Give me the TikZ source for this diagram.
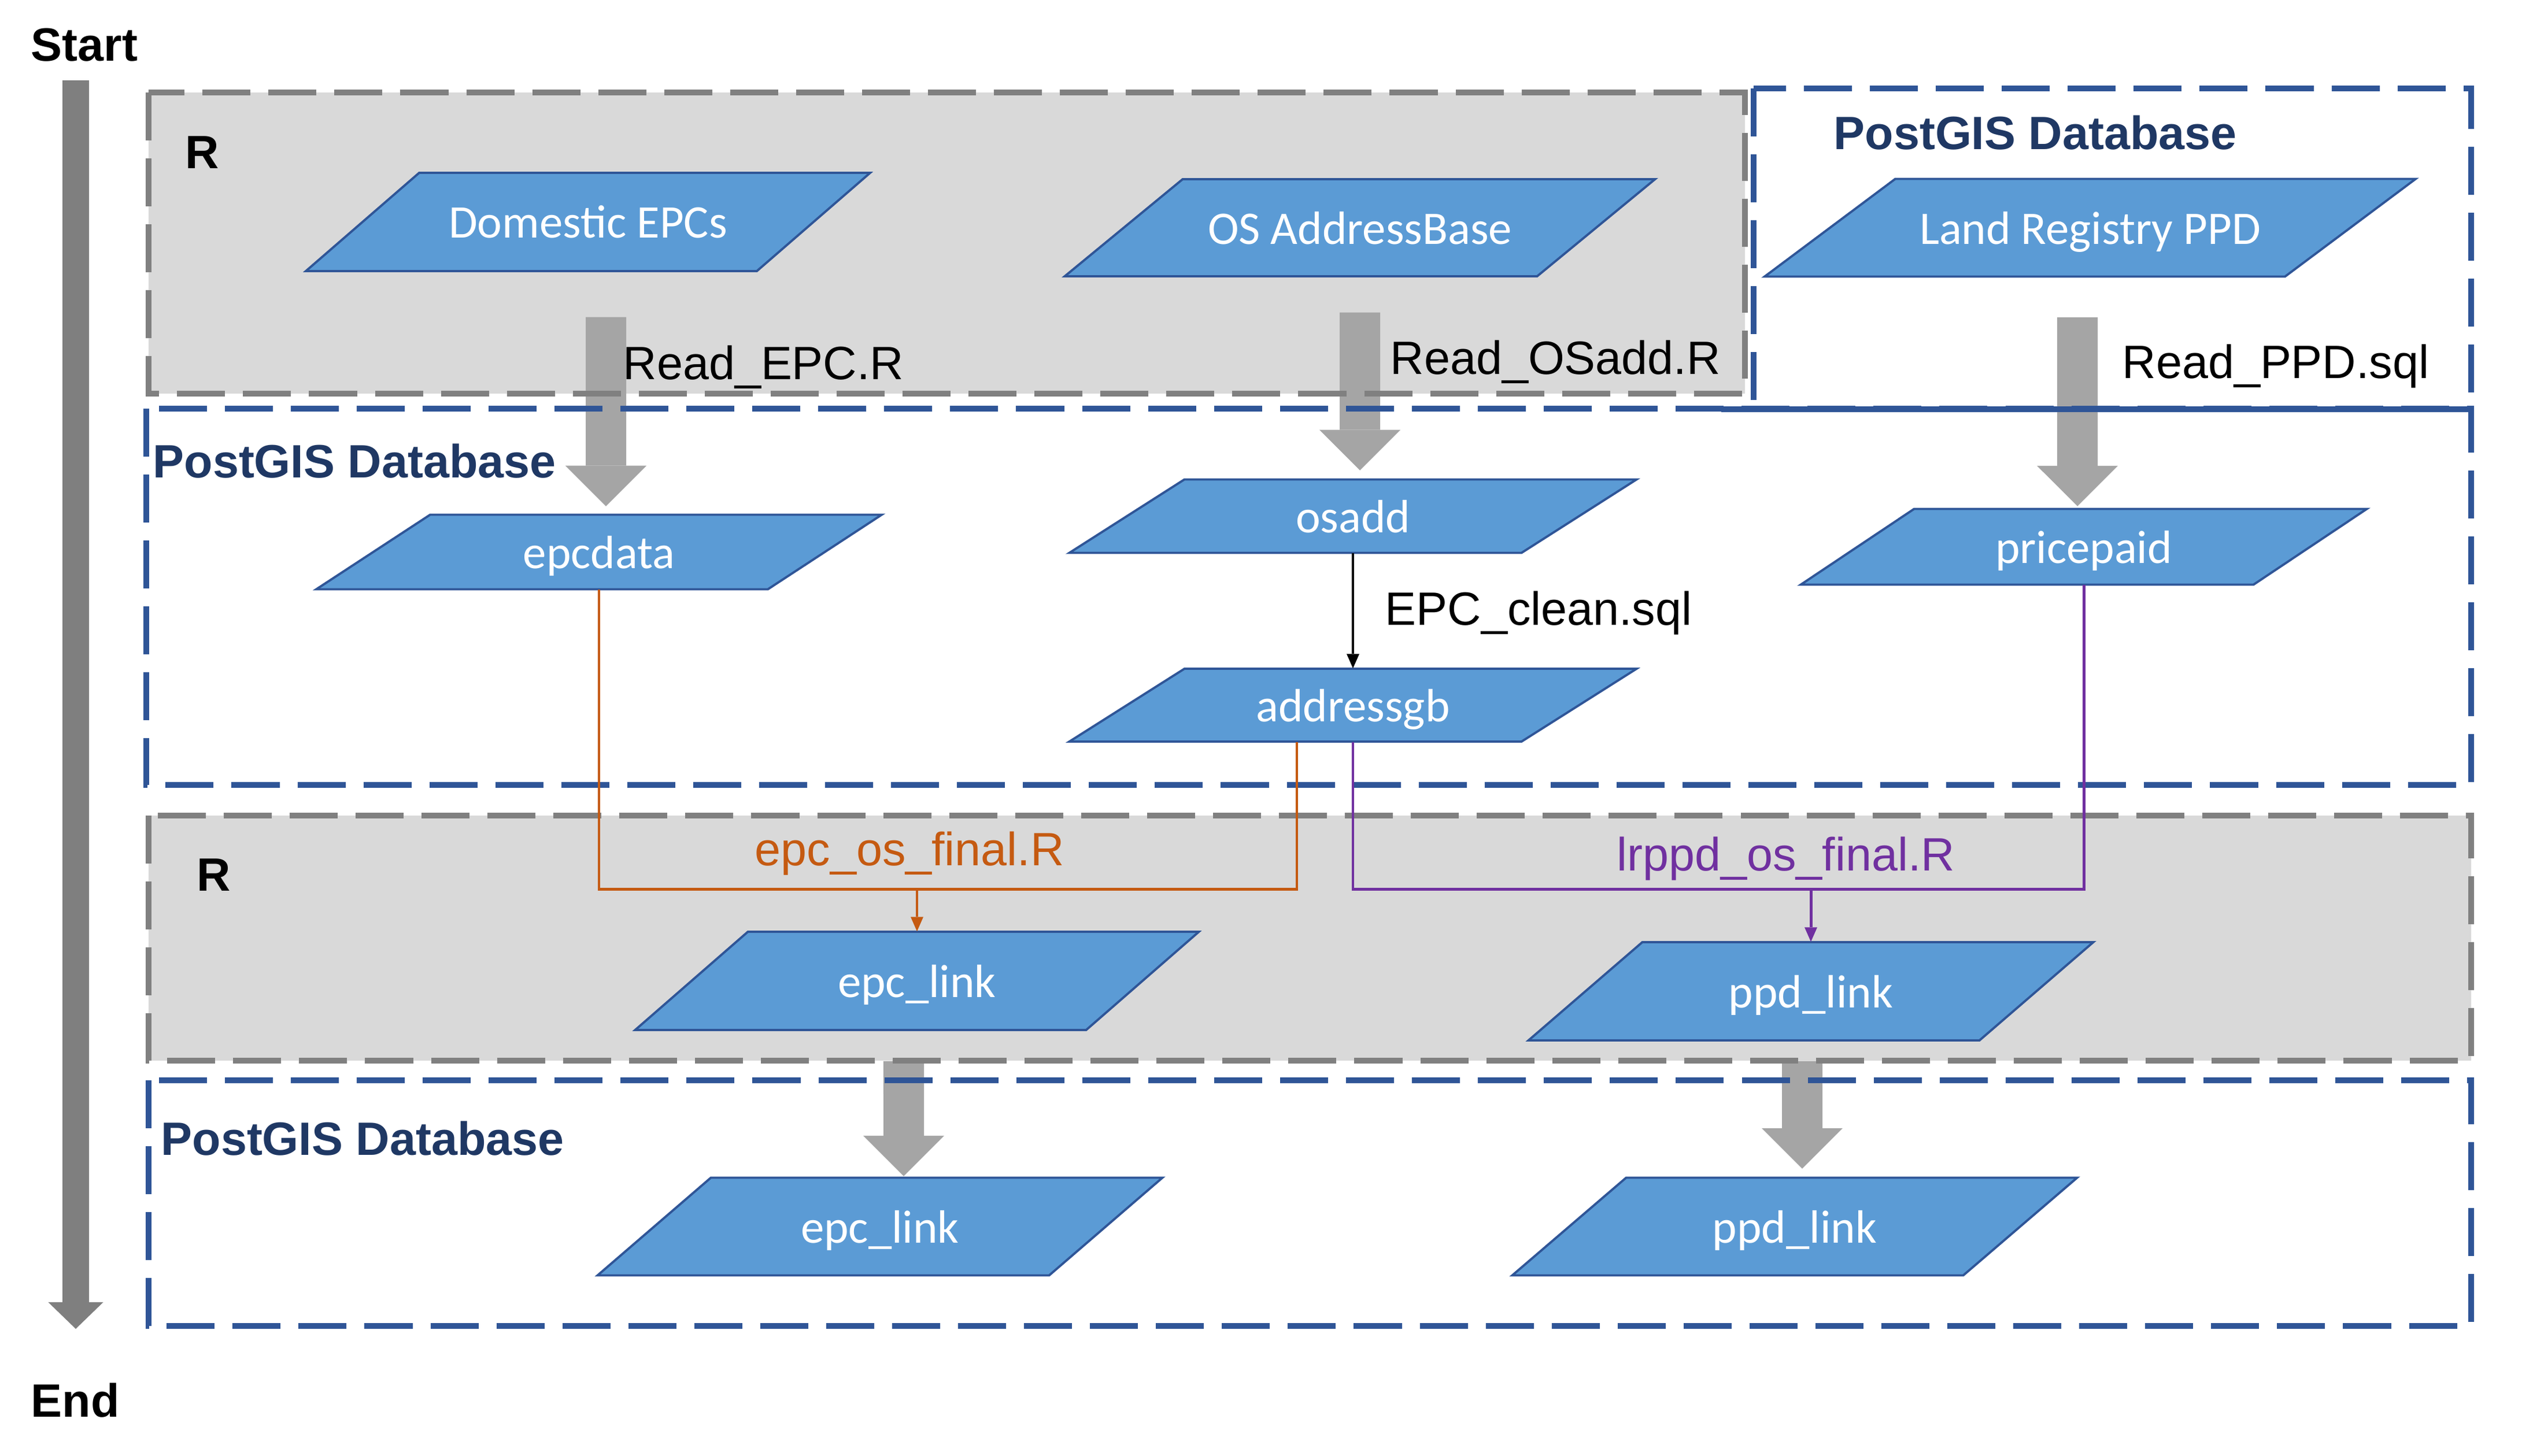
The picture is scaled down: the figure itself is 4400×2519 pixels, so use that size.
\documentclass[tikz,border=0pt]{standalone}
\usepackage{fontspec}
\setmainfont{Liberation Sans}
\newfontfamily\calibri{Carlito}
\usetikzlibrary{arrows.meta,calc}
\definecolor{dbfill}{HTML}{5B9BD5}
\definecolor{dbedge}{HTML}{2F5597}
\definecolor{dbtext}{HTML}{1F3864}
\definecolor{rfill}{HTML}{D9D9D9}
\definecolor{redge}{HTML}{808080}
\definecolor{flowgray}{HTML}{A5A5A5}
\definecolor{timegray}{HTML}{7F7F7F}
\definecolor{epcorange}{HTML}{C55A11}
\definecolor{ppdpurple}{HTML}{7030A0}
\newcommand\labelsize{\fontsize{23}{27}\selectfont}
% name, x, y, side, height, slant, text
\newcommand\datanode[7]{%
  \filldraw[dataface] (#2-#4/2+#6/2,#3-#5/2) -- (#2+#4/2+#6/2,#3-#5/2)
    -- (#2+#4/2-#6/2,#3+#5/2) -- (#2-#4/2-#6/2,#3+#5/2) -- cycle;
  \node[datalabel, minimum width=#4*0.01cm, minimum height=#5*0.01cm] (#1) at (#2,#3) {#7};
}
\tikzset{
  rbox/.style={fill=rfill},
  rline/.style={draw=redge, line width=2.7pt, dash pattern=on 0.83cm off 0.31cm},
  dbline/.style={draw=dbedge, line width=2.7pt, dash pattern=on 0.83cm off 0.31cm},
  dataface/.style={fill=dbfill, draw=dbedge, line width=1.1pt},
  datalabel/.style={inner sep=0pt, text depth=0pt, text=white, font=\calibri\labelsize},
  steplabel/.style={anchor=base west, inner sep=0pt, font=\labelsize},
  boxlabel/.style={anchor=base west, inner sep=0pt, font=\bfseries\labelsize},
  flowarrow/.style={draw=flowgray, line width=0.7cm, -{Triangle[width=1.4cm,length=0.7cm,line width=0pt]}},
  thinarrow/.style={-{Triangle[width=0.22cm,length=0.25cm,line width=0pt]}},
  epcline/.style={draw=epcorange, line width=1.4pt},
  ppdline/.style={draw=ppdpurple, line width=1.4pt},
}
\begin{document}
\begin{tikzpicture}[x=0.01cm, y=-0.01cm]
	\useasboundingbox (0,0) rectangle (4400,2519);
	\fill[rbox] (257,160) rectangle (3018,681);
	\fill[rbox] (257,1411) rectangle (4274,1835);
	% inputs
	\datanode{epcs}{1017}{384}{780}{170}{196}{Domestic EPCs}
	\datanode{osbase}{2352}{394}{817}{168}{204}{OS AddressBase}
	\datanode{lrppd}{3615}{394}{900}{169}{226}{Land Registry PPD}
	% tables
	\datanode{epcdata}{1036}{955}{781}{129}{197}{epcdata}
	\datanode{osadd}{2340}{893}{782}{127}{199}{osadd}
	\datanode{addressgb}{2340}{1220}{782}{126}{199}{addressgb}
	\datanode{pricepaid}{3604}{946}{783}{131}{196}{pricepaid}
	% linked outputs
	\datanode{epclink}{1586}{1697}{780}{170}{195}{epc\_link}
	\datanode{ppdlink}{3132}{1715}{780}{170}{197}{ppd\_link}
	\datanode{epcfinal}{1522}{2122}{781}{169}{196}{epc\_link}
	\datanode{ppdfinal}{3104}{2122}{780}{169}{197}{ppd\_link}
	% time line
	\node[boxlabel] (start) at (53,106) {Start};
	\node[boxlabel] (stop) at (53,2451) {End};
	\coordinate (timetop) at (131,139);
	\coordinate (timebottom) at (131,2299);
	\draw[draw=timegray, line width=0.46cm, -{Triangle[width=0.95cm,length=0.46cm,line width=0pt]}] (timetop) -- (timebottom);
	% loading steps
	\draw[flowarrow] ([xshift=0.31cm,yshift=-0.79cm]epcs.south) -- ([xshift=0.12cm,yshift=0.14cm]epcdata.north);
	\draw[flowarrow] ([yshift=-0.62cm]osbase.south) -- ([xshift=0.12cm,yshift=0.15cm]osadd.north);
	\draw[flowarrow] ([xshift=-0.22cm,yshift=-0.70cm]lrppd.south) -- ([xshift=-0.11cm,yshift=0.04cm]pricepaid.north);
	\draw[flowarrow] ([xshift=-0.23cm,yshift=-0.53cm]epclink.south) -- ([xshift=0.41cm,yshift=0.02cm]epcfinal.north);
	\draw[flowarrow] ([xshift=-0.15cm,yshift=-0.35cm]ppdlink.south) -- ([xshift=0.13cm,yshift=0.15cm]ppdfinal.north);
	% areas
	\draw[rline] (257,160) rectangle (3018,681);
	\draw[rline] (257,1411) rectangle (4274,1835);
	\draw[dbline] (3033,153) rectangle (4274,708);
	\draw[dbline] (253,707) rectangle (4274,1358);
	\draw[dbline] (257,1869) rectangle (4274,2294);
	\draw[draw=dbedge, line width=2.7pt] (2977,708) -- (4274,708);
	% cleaning and linking
	\draw[line width=1.4pt, thinarrow] (osadd.south) -- (addressgb.north);
	\coordinate (epcjoin) at ($(epclink.north)+(0,-73)$);
	\coordinate (ppdjoin) at ($(ppdlink.north)+(0,-91)$);
	\draw[epcline] (epcdata.south) |- (epcjoin) -| ([xshift=-0.97cm]addressgb.south);
	\draw[epcline, thinarrow] (epcjoin) -- (epclink.north);
	\draw[ppdline] (addressgb.south) |- (ppdjoin) -| (pricepaid.south);
	\draw[ppdline, thinarrow] (ppdjoin) -- (ppdlink.north);
	% labels
	\node[boxlabel] (rtitle) at (320,292) {R};
	\node[boxlabel] (rtitlelink) at (340,1541) {R};
	\node[boxlabel, text=dbtext] (dbtitle) at (3171,259) {PostGIS Database};
	\node[boxlabel, text=dbtext] (dbtitletables) at (264,827) {PostGIS Database};
	\node[boxlabel, text=dbtext] (dbtitlefinal) at (278,1998) {PostGIS Database};
	\node[steplabel] (readepc) at (1077,657) {Read\_EPC.R};
	\node[steplabel] (reados) at (2404,648) {Read\_OSadd.R};
	\node[steplabel] (readppd) at (3670,655) {Read\_PPD.sql};
	\node[steplabel] (cleansql) at (2395,1081) {EPC\_clean.sql};
	\node[steplabel, text=epcorange] (epcfinalR) at (1305,1497) {epc\_os\_final.R};
	\node[steplabel, text=ppdpurple] (ppdfinalR) at (2796,1506) {lrppd\_os\_final.R};
\end{tikzpicture}
\end{document}
